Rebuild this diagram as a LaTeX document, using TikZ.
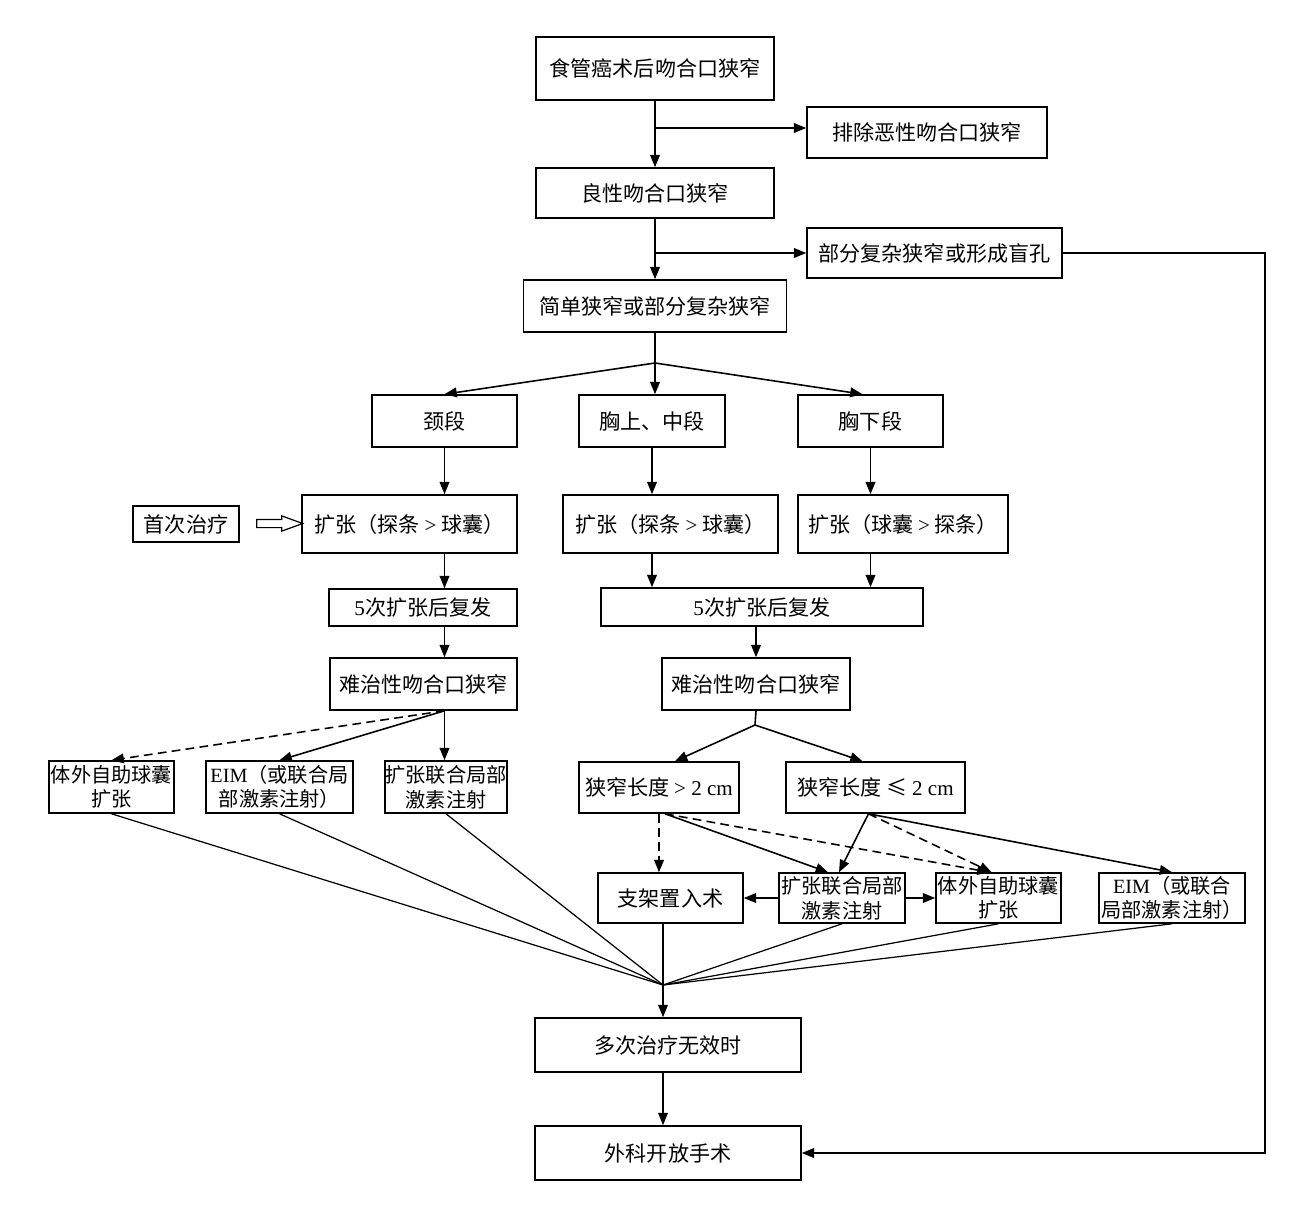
\documentclass[tikz,border=0pt]{standalone}
\usepackage{fontspec}
\setmainfont{Liberation Serif}
\newfontfamily\cjk{Noto Sans CJK SC}
\newfontfamily\enfont{Liberation Serif}
\usepackage{tikz}
\usetikzlibrary{arrows.meta,positioning,calc,shapes.arrows}

\begin{document}
\begin{tikzpicture}[x=0.02cm, y=-0.02cm, >={Triangle[length=7pt,width=5.5pt]},
  every node/.style={font=\cjk\fontsize{12}{14}\selectfont, align=center},
  box/.style={draw, line width=0.9pt, inner sep=0pt},
  tight/.style={box, font=\cjk\fontsize{11.5}{14}\selectfont},
  link/.style={line width=0.9pt},
  thinlink/.style={line width=0.7pt},
  dashlink/.style={line width=0.9pt, dash pattern=on 5pt off 3pt},
  hollow/.style={draw, line width=0.7pt, single arrow, single arrow head extend=0.07cm, single arrow tip angle=40, inner xsep=0pt, inner ysep=0.07cm, minimum height=0.92cm}]
  \useasboundingbox (0,0) rectangle (1311,1210);

  \node[box, minimum width=4.76cm, minimum height=1.26cm] (top) at (655,68.5) {食管癌术后吻合口狭窄};
  \node[box, minimum width=4.8cm, minimum height=1.02cm] (excl) at (927,132.5) {排除恶性吻合口狭窄};
  \node[box, minimum width=4.76cm, minimum height=1cm] (benign) at (655,193) {良性吻合口狭窄};
  \node[box, minimum width=5.1cm, minimum height=1cm] (cplx) at (934.5,253) {部分复杂狭窄或形成盲孔};
  \node[box, minimum width=5.26cm, minimum height=1.04cm] (simple) at (655,306) {简单狭窄或部分复杂狭窄};

  \node[box, minimum width=2.9cm, minimum height=1.04cm] (neck) at (444.5,421) {颈段};
  \node[box, minimum width=2.92cm, minimum height=1.04cm] (upper) at (652,421) {胸上、中段};
  \node[box, minimum width=2.9cm, minimum height=1.04cm] (lower) at (870.5,421) {胸下段};

  \node[box, minimum width=2.12cm, minimum height=0.72cm] (first) at (186,524) {首次治疗};
  \node[hollow] (hint) at (274,523.5) {};
  \node[box, minimum width=4.3cm, minimum height=1.16cm] (dilL) at (409.5,524) {扩张（探条 {\enfont >} 球囊）};
  \node[box, minimum width=4.3cm, minimum height=1.16cm] (dilM) at (670.5,524) {扩张（探条 {\enfont >} 球囊）};
  \node[box, minimum width=4.2cm, minimum height=1.16cm] (dilR) at (903,524) {扩张（球囊 {\enfont >} 探条）};

  \node[box, minimum width=3.76cm, minimum height=0.74cm] (recL) at (423,607.5) {{\enfont 5}次扩张后复发};
  \node[box, minimum width=6.44cm, minimum height=0.76cm] (recR) at (762,607) {{\enfont 5}次扩张后复发};
  \node[box, minimum width=3.74cm, minimum height=1.04cm] (hardL) at (423.5,684) {难治性吻合口狭窄};
  \node[box, minimum width=3.76cm, minimum height=1.04cm] (hardR) at (756,684) {难治性吻合口狭窄};

  \node[tight, minimum width=2.5cm, minimum height=1.04cm] (balL) at (111.5,787) {体外自助球囊\\扩张};
  \node[tight, minimum width=2.94cm, minimum height=1.04cm] (eimL) at (279.5,787) {{\enfont EIM}（或联合局\\部激素注射）};
  \node[tight, minimum width=2.44cm, minimum height=1.04cm] (injL) at (446,787) {扩张联合局部\\激素注射};
  \node[box, minimum width=3.2cm, minimum height=1.02cm] (long) at (659,787.5) {狭窄长度 {\enfont > 2 cm}};
  \node[box, minimum width=3.58cm, minimum height=1.02cm] (short) at (875.5,787.5) {狭窄长度 ≤ {\enfont 2 cm}};

  \node[box, minimum width=2.9cm, minimum height=1cm] (stent) at (670.5,898) {支架置入术};
  \node[tight, minimum width=2.52cm, minimum height=1cm] (injR) at (842,898) {扩张联合局部\\激素注射};
  \node[tight, minimum width=2.5cm, minimum height=1cm] (balR) at (998.5,898) {体外自助球囊\\扩张};
  \node[tight, minimum width=2.92cm, minimum height=1cm] (eimR) at (1172,898) {{\enfont EIM}（或联合\\局部激素注射）};

  \node[box, minimum width=5.32cm, minimum height=1.08cm] (many) at (668,1045) {多次治疗无效时};
  \node[box, minimum width=5.32cm, minimum height=1.08cm] (surg) at (668,1153) {外科开放手术};

  \coordinate (b1) at (655,128);
  \coordinate (b2) at (655,253);
  \coordinate (sp1) at (655,363);
  \coordinate (sp2) at (755,725);
  \coordinate (sp3) at (hardL.south -| neck);
  \coordinate (lo) at ($(long.south)+(6,0)$);
  \coordinate (so) at ($(short.south)+(-7,0)$);
  \coordinate (hub) at (663,985);
  \coordinate (rx) at (1265,0);

  \draw[link, ->] (top.south) -- (benign.north);
  \draw[link, ->] (b1) -- (b1 -| excl.west);
  \draw[link, ->] (benign.south) -- (simple.north);
  \draw[link, ->] (b2) -- (b2 -| cplx.west);
  \draw[link] (simple.south) -- (sp1);
  \draw[link, ->] (sp1) -- (neck.north);
  \draw[link, ->] (sp1) -- (sp1 |- upper.north);
  \draw[link, ->] (sp1) -- ($(lower.north)+(-8,0)$);

  \draw[link, ->] (neck.south) -- (neck.south |- dilL.north);
  \draw[link, ->] (upper.south) -- (upper.south |- dilM.north);
  \draw[link, ->] (lower.south) -- (lower.south |- dilR.north);
  \draw[link, ->] (dilL.south -| neck) -- (recL.north -| neck);
  \draw[link, ->] (dilM.south -| upper) -- (recR.north -| upper);
  \draw[link, ->] (dilR.south -| lower) -- (recR.north -| lower);
  \draw[link, ->] (recL.south -| neck) -- (hardL.north -| neck);
  \draw[link, ->] (recR.south -| hardR) -- (hardR.north);

  \draw[dashlink, ->] (sp3) -- (balL.north);
  \draw[link, ->] (sp3) -- (eimL.north);
  \draw[link, ->] (sp3) -- (sp3 |- injL.north);

  \draw[link] (hardR.south) -- (sp2);
  \draw[link, ->] (sp2) -- ($(long.north)+(16,0)$);
  \draw[link, ->] (sp2) -- ($(short.north)+(-13,0)$);

  \draw[dashlink, ->] (long.south) -- (long.south |- stent.north);
  \draw[link, ->] (lo) -- ($(injR.north)+(-14,0)$);
  \draw[dashlink, ->] (lo) -- ($(balR.north)+(-9,0)$);
  \draw[link, ->] (so) -- ($(injR.north)+(-3,0)$);
  \draw[dashlink, ->] (so) -- ($(balR.north)+(-7,0)$);
  \draw[link, ->] (so) -- (eimR.north);
  \draw[link, ->] (injR.west) -- (stent.east);
  \draw[link, ->] (injR.east) -- (balR.west);

  \foreach \n in {balL,eimL,injL,injR,balR,eimR}
    \draw[thinlink] (\n.south) -- (hub);
  \draw[thinlink] (stent.south -| hub) -- (hub);
  \draw[thinlink, ->] (hub) -- (hub |- many.north);
  \draw[thinlink, ->] (many.south -| hub) -- (surg.north -| hub);
  \draw[link, ->] (cplx.east) -- (cplx.east -| rx) |- (surg.east);
\end{tikzpicture}
\end{document}
